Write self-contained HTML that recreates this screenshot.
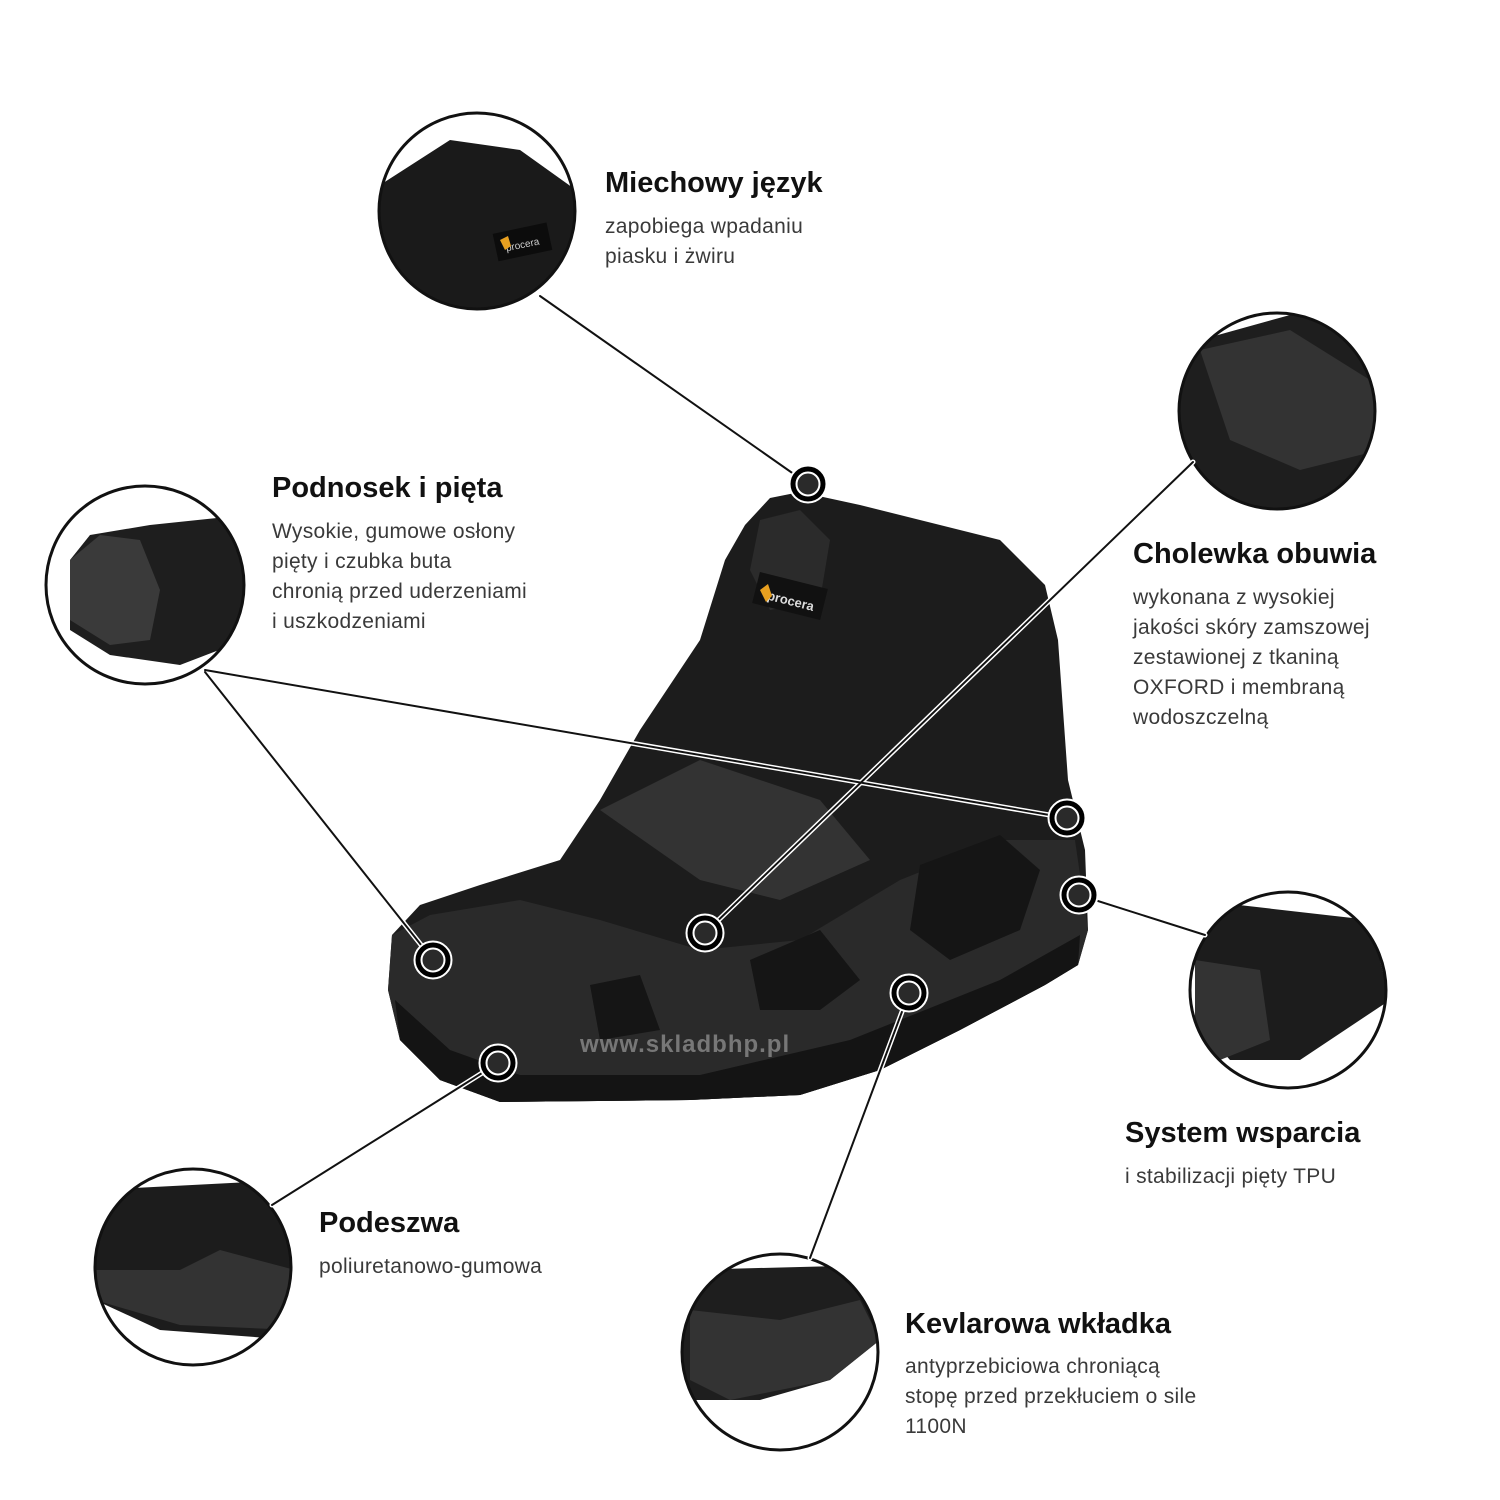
<!DOCTYPE html>
<html><head><meta charset="utf-8"><style>
html,body{margin:0;padding:0;background:#fff}
svg{display:block}
.t{font-family:"Liberation Sans",sans-serif;font-weight:bold;font-size:29px;fill:#111}
.d{font-family:"Liberation Sans",sans-serif;font-size:21px;fill:#3a3a3a;letter-spacing:0.3px}
</style></head><body>
<svg width="1500" height="1500" viewBox="0 0 1500 1500" xmlns="http://www.w3.org/2000/svg">
<defs>
<clipPath id="c1"><circle cx="477" cy="211" r="97"/></clipPath>
<clipPath id="c2"><circle cx="1277" cy="411" r="97"/></clipPath>
<clipPath id="c3"><circle cx="145" cy="585" r="98"/></clipPath>
<clipPath id="c4"><circle cx="1288" cy="990" r="97"/></clipPath>
<clipPath id="c5"><circle cx="193" cy="1267" r="97"/></clipPath>
<clipPath id="c6"><circle cx="780" cy="1352" r="97"/></clipPath>
</defs>
<rect width="1500" height="1500" fill="#fff"/>

<!-- boot -->
<path d="M770,498 L800,492 L860,505 L1000,540 L1045,585 L1058,640 L1068,780 L1085,850 L1088,930 L1078,965 L1045,985 L960,1030 L880,1070 L800,1095 L690,1100 L500,1102 L440,1080 L400,1040 L388,990 L392,935 L420,905 L480,885 L560,860 L600,800 L640,730 L700,640 L725,560 L745,525 Z" fill="#1c1c1c"/>
<path d="M392,935 L430,915 L520,900 L600,920 L700,950 L800,940 L900,880 L1000,840 L1075,840 L1088,930 L1078,965 L1045,985 L960,1030 L880,1070 L800,1095 L690,1100 L500,1102 L440,1080 L400,1040 L388,990 Z" fill="#2a2a2a"/>
<path d="M395,1000 L450,1050 L520,1075 L700,1075 L850,1040 L1000,980 L1080,935 L1078,965 L1045,985 L960,1030 L880,1070 L800,1095 L690,1100 L500,1102 L440,1080 L400,1040 Z" fill="#141414"/>
<path d="M600,810 L700,760 L820,800 L870,860 L780,900 L700,880 Z" fill="#333"/>
<path d="M760,520 L800,510 L830,540 L820,600 L770,610 L750,570 Z" fill="#2b2b2b"/>
<rect x="755" y="580" width="70" height="32" fill="#111" transform="rotate(14 790 596)"/>
<text x="768" y="605" font-family="Liberation Sans,sans-serif" font-size="13" font-weight="bold" fill="#ddd" transform="rotate(14 790 596)">procera</text>
<path d="M760,590 l8,-6 l4,12 l-6,6 z" fill="#e8a020"/>
<path d="M920,865 L1000,835 L1040,870 L1020,930 L950,960 L910,930 Z" fill="#151515"/>
<path d="M750,960 L820,930 L860,980 L820,1010 L760,1010 Z" fill="#151515"/>
<path d="M590,985 L640,975 L660,1030 L600,1040 Z" fill="#151515"/>
<text x="580" y="1052" font-family="Liberation Sans,sans-serif" font-size="24" font-weight="bold" fill="#777" letter-spacing="1">www.skladbhp.pl</text>

<!-- detail circles -->
<g clip-path="url(#c1)"><rect x="370" y="110" width="220" height="210" fill="#1a1a1a"/><path d="M370,110 H590 V200 L520,150 L450,140 L380,185 Z" fill="#fff"/><rect x="495" y="228" width="55" height="28" fill="#0c0c0c" transform="rotate(-12 522 242)"/><text x="505" y="248" font-family="Liberation Sans,sans-serif" font-size="10" fill="#ccc" transform="rotate(-12 522 242)">procera</text><path d="M500,240 l8,-4 l3,10 l-6,4z" fill="#e8a020"/></g>
<circle cx="477" cy="211" r="98" fill="none" stroke="#111" stroke-width="3"/>

<g clip-path="url(#c2)"><rect x="1170" y="305" width="215" height="215" fill="#1e1e1e"/><path d="M1200,350 L1290,330 L1370,380 L1380,450 L1300,470 L1230,440 Z" fill="#333"/><path d="M1170,305 H1385 V330 L1290,315 L1200,340 Z" fill="#fff"/></g>
<circle cx="1277" cy="411" r="98" fill="none" stroke="#111" stroke-width="3"/>

<g clip-path="url(#c3)"><rect x="40" y="480" width="215" height="215" fill="#fff"/><path d="M70,560 L90,535 L150,525 L245,515 L245,640 L180,665 L110,655 L70,630 Z" fill="#1e1e1e"/><path d="M70,560 L100,535 L140,540 L160,590 L150,640 L110,645 L70,620 Z" fill="#3a3a3a"/></g>
<circle cx="145" cy="585" r="99" fill="none" stroke="#111" stroke-width="3"/>

<g clip-path="url(#c4)"><rect x="1185" y="885" width="210" height="210" fill="#fff"/><path d="M1195,900 L1370,920 L1390,1000 L1300,1060 L1230,1060 L1195,1020 Z" fill="#1c1c1c"/><path d="M1195,960 L1260,970 L1270,1040 L1220,1060 L1195,1040 Z" fill="#333"/></g>
<circle cx="1288" cy="990" r="98" fill="none" stroke="#111" stroke-width="3"/>

<g clip-path="url(#c5)"><rect x="90" y="1165" width="210" height="210" fill="#fff"/><path d="M95,1190 L290,1180 L295,1340 L160,1330 L95,1300 Z" fill="#1c1c1c"/><path d="M95,1270 L180,1270 L220,1250 L295,1270 L295,1330 L180,1325 L95,1300 Z" fill="#333"/></g>
<circle cx="193" cy="1267" r="98" fill="none" stroke="#111" stroke-width="3"/>

<g clip-path="url(#c6)"><rect x="675" y="1250" width="210" height="210" fill="#fff"/><path d="M680,1270 L880,1265 L880,1340 L830,1380 L760,1400 L690,1400 L680,1360 Z" fill="#1e1e1e"/><path d="M690,1310 L780,1320 L860,1300 L880,1340 L830,1380 L730,1400 L690,1380 Z" fill="#333"/></g>
<circle cx="780" cy="1352" r="98" fill="none" stroke="#111" stroke-width="3"/>

<!-- connectors -->
<g stroke-linecap="round" fill="none">
<g stroke="#fff" stroke-width="5">
<line x1="808" y1="484" x2="540" y2="296"/>
<line x1="705" y1="933" x2="1193" y2="462"/>
<line x1="1067" y1="818" x2="205" y2="670"/>
<line x1="433" y1="960" x2="205" y2="672"/>
<line x1="1079" y1="895" x2="1205" y2="935"/>
<line x1="909" y1="993" x2="810" y2="1258"/>
<line x1="498" y1="1063" x2="272" y2="1205"/>
</g>
<g stroke="#111" stroke-width="2">
<line x1="808" y1="484" x2="540" y2="296"/>
<line x1="705" y1="933" x2="1193" y2="462"/>
<line x1="1067" y1="818" x2="205" y2="670"/>
<line x1="433" y1="960" x2="205" y2="672"/>
<line x1="1079" y1="895" x2="1205" y2="935"/>
<line x1="909" y1="993" x2="810" y2="1258"/>
<line x1="498" y1="1063" x2="272" y2="1205"/>
</g>
</g>
<!-- markers -->
<g>
<g fill="#2a2a2a" stroke="#fff" stroke-width="9"><circle cx="808" cy="484" r="15"/><circle cx="1067" cy="818" r="15"/><circle cx="1079" cy="895" r="15"/><circle cx="705" cy="933" r="15"/><circle cx="433" cy="960" r="15"/><circle cx="909" cy="993" r="15"/><circle cx="498" cy="1063" r="15"/></g>
<g fill="none" stroke="#000" stroke-width="5"><circle cx="808" cy="484" r="15"/><circle cx="1067" cy="818" r="15"/><circle cx="1079" cy="895" r="15"/><circle cx="705" cy="933" r="15"/><circle cx="433" cy="960" r="15"/><circle cx="909" cy="993" r="15"/><circle cx="498" cy="1063" r="15"/></g>
</g>

<!-- text -->
<text class="t" x="605" y="192">Miechowy język</text>
<text class="d" x="605" y="233">zapobiega wpadaniu</text>
<text class="d" x="605" y="263">piasku i żwiru</text>

<text class="t" x="272" y="497">Podnosek i pięta</text>
<text class="d" x="272" y="538">Wysokie, gumowe osłony</text>
<text class="d" x="272" y="568">pięty i czubka buta</text>
<text class="d" x="272" y="598">chronią przed uderzeniami</text>
<text class="d" x="272" y="628">i uszkodzeniami</text>

<text class="t" x="1133" y="563">Cholewka obuwia</text>
<text class="d" x="1133" y="604">wykonana z wysokiej</text>
<text class="d" x="1133" y="634">jakości skóry zamszowej</text>
<text class="d" x="1133" y="664">zestawionej z tkaniną</text>
<text class="d" x="1133" y="694">OXFORD i membraną</text>
<text class="d" x="1133" y="724">wodoszczelną</text>

<text class="t" x="1125" y="1142">System wsparcia</text>
<text class="d" x="1125" y="1183">i stabilizacji pięty TPU</text>

<text class="t" x="319" y="1232">Podeszwa</text>
<text class="d" x="319" y="1273">poliuretanowo-gumowa</text>

<text class="t" x="905" y="1333">Kevlarowa wkładka</text>
<text class="d" x="905" y="1373">antyprzebiciowa chroniącą</text>
<text class="d" x="905" y="1403">stopę przed przekłuciem o sile</text>
<text class="d" x="905" y="1433">1100N</text>
</svg>
</body></html>
